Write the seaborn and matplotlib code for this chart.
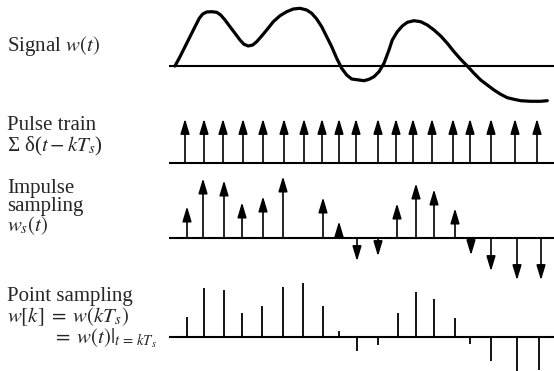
import matplotlib
matplotlib.use('Agg')
import matplotlib.pyplot as plt
import seaborn as sns

# signal w(t) (t in px, w in px above the baseline)
sig_t = [175.0, 180.0, 185.0, 190.0, 195.0, 199.3, 202.7, 206.7, 211.7, 216.7, 220.7, 225.0,
         230.0, 235.0, 240.0, 244.0, 248.3, 252.7, 256.7, 261.7, 266.7, 273.3, 280.0, 286.7,
         293.3, 300.0, 306.7, 311.7, 316.7, 321.7, 326.7, 331.7, 336.7, 341.7, 346.7, 351.7,
         359.0, 364.0, 369.0, 374.0, 379.0, 384.0, 389.0, 392.3, 397.3, 402.3, 407.3, 414.0,
         420.7, 427.3, 434.0, 440.7, 447.3, 454.0, 460.7, 467.3, 474.0, 480.7, 487.3, 494.0,
         500.7, 507.3, 514.0, 520.7, 530.7, 540.7, 547.3]
sig_w = [0.0, 9.3, 19.3, 29.3, 39.3, 47.7, 52.0, 54.0, 54.3, 53.7, 51.0, 46.0,
         39.3, 32.7, 26.0, 21.7, 20.0, 21.0, 24.3, 30.0, 36.0, 44.3, 50.3, 54.3,
         57.0, 57.7, 56.0, 52.7, 47.0, 39.3, 29.3, 19.3, 7.7, -2.3, -9.0, -13.0,
         -14.0, -14.7, -13.3, -10.7, -5.7, 2.7, 16.0, 26.0, 34.3, 40.0, 43.7, 45.3,
         44.3, 41.0, 36.0, 30.0, 22.7, 14.3, 6.7, 0.0, -7.3, -14.0, -19.0, -24.0,
         -28.3, -31.7, -33.3, -34.7, -35.3, -35.3, -34.7]

# pulse train
pulse_t = [185, 204, 223, 243, 263, 284, 304, 322, 339, 356, 378, 396, 413, 432, 453, 470, 491, 515, 537]
pulse_h = 44

# impulse sampling
imp_t = [187, 203, 224, 242, 263, 283, 323, 339, 357, 378, 397, 416, 434, 455, 471, 491, 517, 541]
imp_h = [32, 60, 58, 36, 42, 62, 41, 17, -23, -18, 35, 55, 49, 30, -17, -33, -42, -42]

# point sampling
pt_t = [187, 204, 224, 242, 262, 283, 303, 323, 339, 357, 378, 398, 416, 434, 455, 470, 491, 517, 539]
pt_h = [20, 49, 47, 24, 31, 50, 54, 31, 6, -14, -8, 24, 45, 38, 19, -7, -24, -34, -33]

W, H = 554, 371
axis_start = 169

sns.set_style('white')
plt.rcParams['font.family'] = ['Liberation Serif', 'DejaVu Serif']
plt.rcParams['mathtext.fontset'] = 'stix'

fig = plt.figure(figsize=(W / 100, H / 100), dpi=100)


def row_axes(base):
    # one transparent axes per row, baseline at y=0
    ax = fig.add_axes([0, 0, 1, 1])
    ax.set_xlim(0, W)
    ax.set_ylim(base - H, base)
    ax.axis('off')
    ax.patch.set_alpha(0)
    ax.hlines(0, axis_start, W, color='black', lw=1.5)
    return ax


def arrows(ax, ts, hs):
    for t, h in zip(ts, hs):
        ax.annotate('', xy=(t, h), xytext=(t, 0),
                    arrowprops=dict(arrowstyle='-|>,head_length=0.9,head_width=0.27',
                                    color='black', lw=1.2, shrinkA=0, shrinkB=0))


# 1. signal
ax1 = row_axes(66)
sns.lineplot(x=sig_t, y=sig_w, ax=ax1, color='black', lw=2.3, sort=False, estimator=None)

# 2. pulse train
ax2 = row_axes(162.7)
arrows(ax2, pulse_t, [pulse_h] * len(pulse_t))

# 3. impulse sampling
ax3 = row_axes(238.3)
arrows(ax3, imp_t, imp_h)

# 4. point sampling
ax4 = row_axes(337.3)
ax4.vlines(pt_t, 0, pt_h, color='black', lw=1.3)

fs = 15


def label(x, y, s):
    fig.text(x / W, 1 - y / H, s, fontsize=fs, va='center', ha='left')


label(7, 46, r'Signal $w(t)$')
label(7, 126, 'Pulse train')
label(7, 146, r'Σ δ($t - kT_s$)')
label(7, 189, 'Impulse')
label(7, 207, 'sampling')
label(7, 226, r'$w_s(t)$')
label(7, 297, 'Point sampling')
label(7, 317, r'$w[k]\;=\;w(kT_s)$')
label(52, 338, r'$=\;w(t)|_{t\,=\,kT_s}$')

plt.savefig('out.png', dpi=100)
